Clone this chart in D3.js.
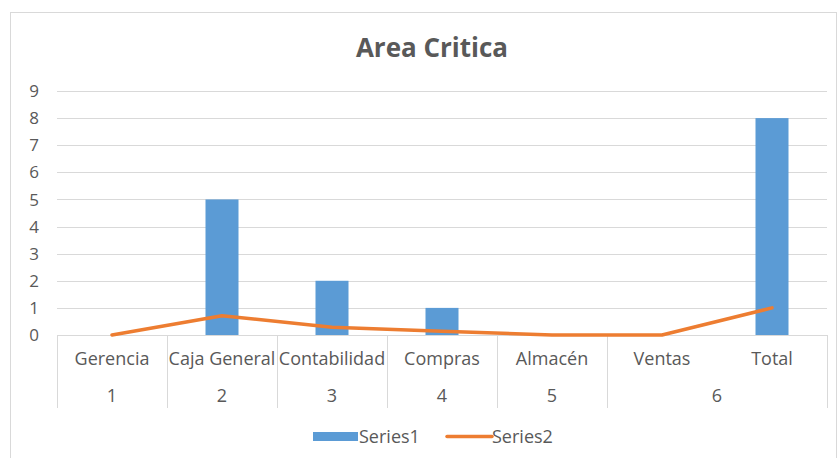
<!DOCTYPE html>
<html>
<head>
<meta charset="utf-8">
<script src="https://cdn.jsdelivr.net/npm/d3@7"></script>
<style>
  body { margin: 0; background: #fff; }
  text { font-family: "Open Sans", sans-serif; fill: #595959; }
</style>
</head>
<body>
<div id="chart"></div>
<script>
// chart data
const categories = ["Gerencia", "Caja General", "Contabilidad", "Compras", "Almacén", "Ventas", "Total"];
const groupLabels = ["1", "2", "3", "4", "5", "6"];
const groupOfCategory = [0, 1, 2, 3, 4, 5, 5];
const series1 = [0, 5, 2, 1, 0, 0, 8];
const series2 = [0, 0.71, 0.29, 0.14, 0, 0, 1];
const yTicks = [0, 1, 2, 3, 4, 5, 6, 7, 8, 9];

const width = 839;
const height = 458;
const plot = { left: 57, right: 827, top: 91, bottom: 335 };
const axisBottom = 408;
const colors = { bar: "#5B9BD5", line: "#ED7D31", grid: "#d9d9d9" };

var svg = d3.select("#chart")
  .append("svg")
  .attr("width", width)
  .attr("height", height);

// outer chart border
svg.append("rect")
  .attr("x", 10.5).attr("y", 12.5)
  .attr("width", 826).attr("height", 460)
  .attr("fill", "none")
  .attr("stroke", colors.grid);

var x = d3.scaleBand().domain(categories).range([plot.left, plot.right]);
var y = d3.scaleLinear().domain([0, 9]).range([plot.bottom, plot.top]);

// title
svg.append("text")
  .attr("x", 432).attr("y", 57)
  .attr("text-anchor", "middle")
  .style("font-size", "26px")
  .style("font-weight", "bold")
  .text("Area Critica");

// gridlines
svg.append("g").selectAll("line")
  .data(yTicks.filter(d => d > 0))
  .enter().append("line")
  .attr("x1", plot.left).attr("x2", plot.right)
  .attr("y1", d => Math.round(y(d)) + 0.5).attr("y2", d => Math.round(y(d)) + 0.5)
  .attr("stroke", colors.grid);

// y tick labels
svg.append("g").selectAll("text")
  .data(yTicks)
  .enter().append("text")
  .attr("x", 39).attr("y", d => y(d))
  .attr("dy", "0.36em")
  .attr("text-anchor", "end")
  .style("font-size", "17px")
  .text(d => d);

// bars
var barWidth = 33;
svg.append("g").selectAll("rect")
  .data(series1)
  .enter().append("rect")
  .attr("x", (d, i) => x(categories[i]) + x.bandwidth() / 2 - barWidth / 2)
  .attr("y", d => y(d))
  .attr("width", barWidth)
  .attr("height", d => y(0) - y(d))
  .attr("fill", colors.bar);

// category axis box
var axisG = svg.append("g");
axisG.append("line")
  .attr("x1", plot.left).attr("x2", plot.right)
  .attr("y1", plot.bottom + 0.5).attr("y2", plot.bottom + 0.5)
  .attr("stroke", colors.grid);

// boundaries only where the group changes
var bounds = [plot.left];
categories.forEach(function(c, i) {
  if (i < categories.length - 1 && groupOfCategory[i] != groupOfCategory[i + 1]) {
    bounds.push(x(c) + x.bandwidth());
  }
});
bounds.push(plot.right);
axisG.selectAll("line.bound")
  .data(bounds)
  .enter().append("line")
  .attr("class", "bound")
  .attr("x1", d => Math.round(d) + 0.5).attr("x2", d => Math.round(d) + 0.5)
  .attr("y1", plot.bottom).attr("y2", axisBottom)
  .attr("stroke", colors.grid);

axisG.selectAll("text.cat")
  .data(categories)
  .enter().append("text")
  .attr("class", "cat")
  .attr("x", d => x(d) + x.bandwidth() / 2)
  .attr("y", 365)
  .attr("text-anchor", "middle")
  .style("font-size", "18px")
  .text(d => d);

axisG.selectAll("text.group")
  .data(groupLabels)
  .enter().append("text")
  .attr("class", "group")
  .attr("x", function(g, gi) {
    var idx = categories.filter((c, i) => groupOfCategory[i] == gi);
    var x0 = x(idx[0]);
    var x1 = x(idx[idx.length - 1]) + x.bandwidth();
    return (x0 + x1) / 2;
  })
  .attr("y", 402)
  .attr("text-anchor", "middle")
  .style("font-size", "18px")
  .text(d => d);

// series2 line
var lineGen = d3.line()
  .x((d, i) => x(categories[i]) + x.bandwidth() / 2)
  .y(d => y(d));
svg.append("path")
  .datum(series2)
  .attr("d", lineGen)
  .attr("fill", "none")
  .attr("stroke", colors.line)
  .attr("stroke-width", 3.5)
  .attr("stroke-linejoin", "round")
  .attr("stroke-linecap", "round");

// legend
var legend = svg.append("g");
legend.append("rect")
  .attr("x", 313).attr("y", 432)
  .attr("width", 45).attr("height", 9)
  .attr("fill", colors.bar);
legend.append("text")
  .attr("x", 359).attr("y", 443)
  .style("font-size", "18px")
  .text("Series1");
legend.append("line")
  .attr("x1", 447).attr("x2", 492)
  .attr("y1", 436.5).attr("y2", 436.5)
  .attr("stroke", colors.line)
  .attr("stroke-width", 3.5)
  .attr("stroke-linecap", "round");
legend.append("text")
  .attr("x", 492).attr("y", 443)
  .style("font-size", "18px")
  .text("Series2");
</script>
</body>
</html>
